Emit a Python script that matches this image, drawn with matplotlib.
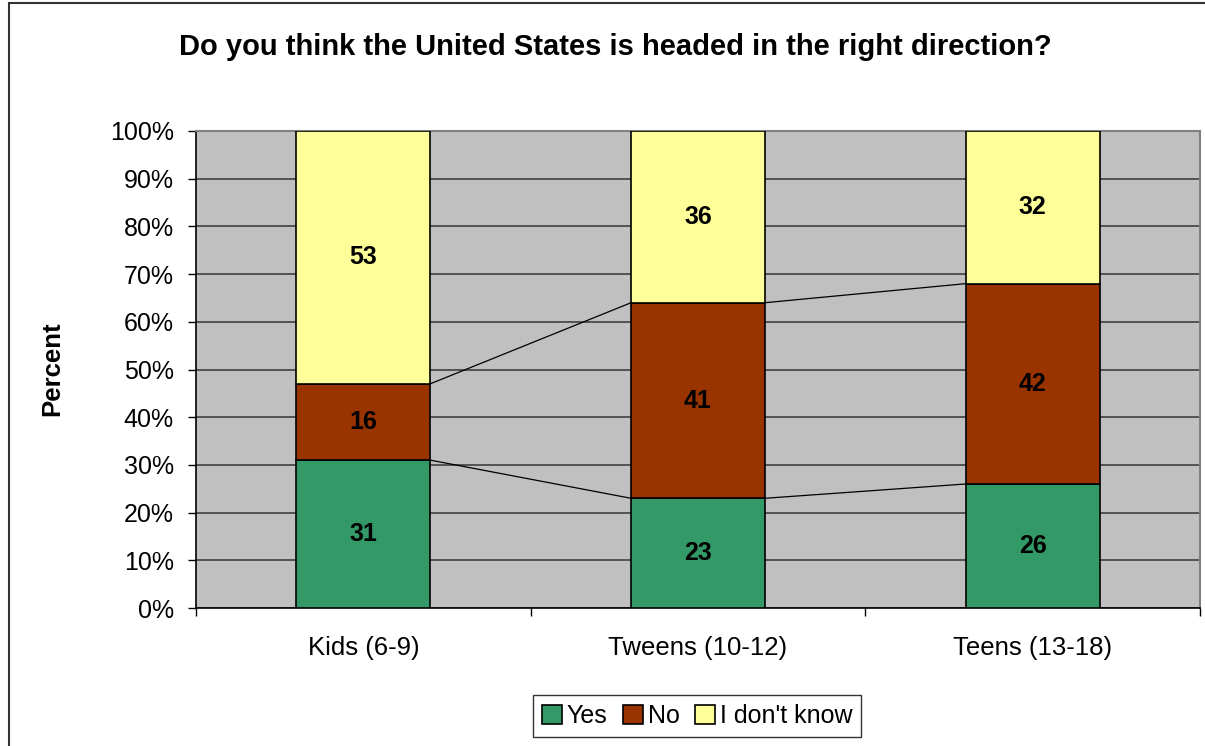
import numpy as np
import matplotlib.pyplot as plt
from matplotlib.patches import Rectangle

plt.rcParams['font.family'] = ['Liberation Sans', 'DejaVu Sans']

categories = ['Kids (6-9)', 'Tweens (10-12)', 'Teens (13-18)']
series_names = ['Yes', 'No', "I don't know"]
yes = [31, 23, 26]
no = [16, 41, 42]
dont_know = [53, 36, 32]
colors = ['#339966', '#993300', '#FFFF99']

fig = plt.figure(figsize=(12.05, 7.46), dpi=100)
ax = fig.add_axes([196 / 1205, 1 - 608 / 746, (1200 - 196) / 1205, (608 - 131) / 746])
ax.set_facecolor('#C0C0C0')

x = np.arange(len(categories))
w = 0.4
data = [yes, no, dont_know]
bottom = np.zeros(len(categories))
for vals, name, c in zip(data, series_names, colors):
    vals = np.array(vals, dtype=float)
    ax.bar(x, vals, w, bottom=bottom, color=c, edgecolor='black', linewidth=1.2,
           label=name, zorder=3)
    for xi, b, v in zip(x, bottom, vals):
        ax.text(xi, b + v / 2, f'{int(v)}', ha='center', va='center',
                fontsize=18, fontweight='bold', zorder=4)
    bottom = bottom + vals

# series lines between bars
cum_yes = np.array(yes)
cum_no = np.array(yes) + np.array(no)
for cum in [cum_yes, cum_no]:
    for i in range(len(categories) - 1):
        ax.plot([x[i] + w / 2, x[i + 1] - w / 2], [cum[i], cum[i + 1]],
                color='black', linewidth=0.9, zorder=2)

ax.set_xlim(-0.5, 2.5)
ax.set_ylim(0, 100)
ax.set_yticks(np.arange(0, 101, 10))
ax.set_yticklabels([f'{v}%' for v in range(0, 101, 10)], fontsize=18)
ax.yaxis.grid(True, color='#404040', linewidth=1.2, zorder=1)
ax.set_axisbelow(True)

ax.set_xticks(x)
ax.set_xticklabels(categories, fontsize=18.5)
ax.tick_params(axis='x', length=0, pad=20)
ax.set_xticks([-0.5, 0.5, 1.5, 2.5], minor=True)
ax.tick_params(axis='x', which='minor', length=6, direction='out', width=1)
ax.tick_params(axis='y', length=6, direction='out', width=1, pad=10)

for s in ['top', 'right']:
    ax.spines[s].set_color('#808080')
    ax.spines[s].set_linewidth(1.5)
for s in ['left', 'bottom']:
    ax.spines[s].set_color('black')
    ax.spines[s].set_linewidth(1.2)

fig.text(615 / 1205, 1 - 47 / 746, 'Do you think the United States is headed in the right direction?',
         ha='center', va='center', fontsize=21, fontweight='bold')
fig.text(52 / 1205, 1 - 369 / 746, 'Percent', rotation=90, ha='center', va='center',
         fontsize=18.5, fontweight='bold')

leg = fig.legend(loc='center', bbox_to_anchor=(697 / 1205, 1 - 716 / 746), ncol=3,
                 fontsize=18, frameon=True, fancybox=False, edgecolor='black',
                 handlelength=0.8, handleheight=0.8, handletextpad=0.2,
                 columnspacing=0.6, borderpad=0.35)
leg.get_frame().set_linewidth(1.0)

fig.patches.append(Rectangle((9 / 1205, -0.1), 1.2, 1.1 - 3 / 746, transform=fig.transFigure,
                             fill=False, edgecolor='#333333', linewidth=1.5))

fig.savefig('out.png', dpi=100)
